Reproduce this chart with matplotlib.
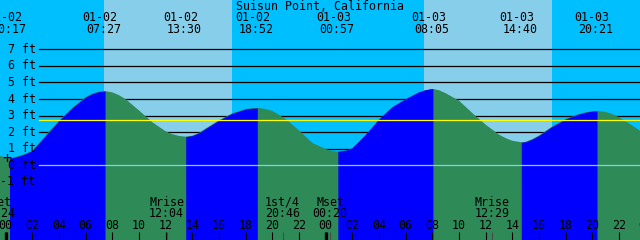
import matplotlib
matplotlib.use("Agg")
import matplotlib.pyplot as plt
from matplotlib.transforms import offset_copy
import numpy as np

# ---------------- data ----------------
title = "Suisun Point, California"

# hours since 01-02 00:00, tide height in ft
times = [-1, 0, 0.283, 0.5, 1, 1.5, 2, 3, 4, 5, 6, 6.5, 7, 7.45, 8, 8.5, 9,
         10, 11, 12, 12.5, 13, 13.5, 14, 14.5, 15, 16, 17, 18, 18.5, 18.87,
         19, 19.5, 20, 21, 22, 23, 24, 24.5, 24.95, 25, 25.5, 26, 27, 28, 29,
         30, 31, 31.5, 32, 32.08, 32.5, 33, 34, 35, 36, 37, 37.5, 38, 38.67,
         39, 39.5, 40, 41, 42, 43, 43.5, 44, 44.35, 45, 45.5, 46, 47, 48]
heights = [0.68, 0.48, 0.45, 0.46, 0.56, 0.7, 0.9, 1.8, 2.7, 3.48, 4.12,
           4.33, 4.45, 4.48, 4.4, 4.23, 3.99, 3.31, 2.6, 2.05, 1.88, 1.77,
           1.73, 1.79, 1.96, 2.22, 2.72, 3.14, 3.40, 3.445, 3.46, 3.46, 3.39,
           3.28, 2.8, 2.1, 1.35, 0.98, 0.87, 0.82, 0.82, 0.88, 1.02, 1.82,
           2.75, 3.5, 3.98, 4.4, 4.53, 4.6, 4.6, 4.53, 4.35, 3.9, 3.15, 2.45,
           1.85, 1.64, 1.48, 1.39, 1.42, 1.58, 1.8, 2.35, 2.8, 3.1, 3.2, 3.27,
           3.28, 3.22, 3.09, 2.9, 2.4, 1.85]

ext_times = [0.283, 7.45, 13.5, 18.87, 24.95, 32.08, 38.67, 44.35]
ext_dates = ["01-02", "01-02", "01-02", "01-02", "01-03", "01-03", "01-03", "01-03"]
ext_labels = ["00:17", "07:27", "13:30", "18:52", "00:57", "08:05", "14:40", "20:21"]
ext_kind = ["low", "high", "low", "high", "low", "high", "low", "high"]

sunrise = [7.37, 31.37]
sunset = [16.97, 40.95]

moon_times = [-0.6, 12.07, 20.77, 24.33, 36.48]
moon_names = ["Mset", "Mrise", "1st/4", "Mset", "Mrise"]
moon_labels = ["23:24", "12:04", "20:46", "00:20", "12:29"]

ft_levels = [7, 6, 5, 4, 3, 2, 1, 0, -1]
grid_levels = [7, 6, 5, 4, 3, 2, 1]
datum_level = 0
mean_level = 2.72
hour_ticks = list(range(0, 50, 2))
midnights = [0, 24, 48]

# ---------------- style ----------------
W, H = 640, 240
C_NIGHT = "#00BFFF"
C_DAY = "#87CEEB"
C_RISE = "#0000FF"
C_FALL = "#2E8B57"
C_MEAN = "#FFFF00"
C_DATUM = "#87CEEB"
FONT = "DejaVu Sans Mono"
FS = 8.4

fig = plt.figure(figsize=(W / 100, H / 100), dpi=100)
fig.patch.set_facecolor(C_NIGHT)
ax = fig.add_axes([0, 0, 1, 1])
ax.set_facecolor(C_NIGHT)
ax.axis("off")

px_per_hr = 13.333
x0_px = 5.7
ax.set_xlim(-x0_px / px_per_hr, (W - x0_px) / px_per_hr)
zero_px, px_per_ft = 165.3, 16.57
ax.set_ylim((zero_px - H) / px_per_ft, zero_px / px_per_ft)

def fy(ypx):
    return 1 - ypx / H

# day shading
for a, b in zip(sunrise, sunset):
    ax.axvspan(a, b, color=C_DAY, lw=0, zorder=0)

# grid lines
line_x0 = 39.3 / W
for lv in grid_levels:
    ax.axhline(lv, xmin=line_x0, xmax=1, color="black", lw=0.9, zorder=1)

# tide curve
t = np.array(times)
hgt = np.array(heights)
bottom = -10
ax.fill_between(t, hgt, bottom, color=C_FALL, lw=0, zorder=2)
for i in range(len(ext_times) - 1):
    if ext_kind[i] == "low":
        m = (t >= ext_times[i]) & (t <= ext_times[i + 1])
        ax.fill_between(t[m], hgt[m], bottom, color=C_RISE, lw=0, zorder=3)

# datum and mean lines
ax.axhline(datum_level, xmin=line_x0, xmax=1, color=C_DATUM, lw=0.9, zorder=4)
ax.axhline(mean_level, xmin=line_x0, xmax=1, color=C_MEAN, lw=0.9, zorder=4)

# y labels
for lv in ft_levels:
    ax.text(35.5 / W, lv, f"{lv} ft", transform=ax.get_yaxis_transform(),
            ha="right", va="center", fontsize=FS, family=FONT, zorder=6)

ax.text(7.3 / W, fy(158.3), "+", transform=ax.transAxes, ha="center",
        va="center", fontsize=11, family=FONT, zorder=6)

xt = ax.get_xaxis_transform()

# title
ax.text(0.5, fy(6), title, transform=ax.transAxes, ha="center", va="center",
        fontsize=FS, family=FONT, zorder=6)

# extreme labels
date_tr = offset_copy(xt, fig=fig, x=-5, y=0, units="dots")
time_tr = offset_copy(xt, fig=fig, x=-1.2, y=0, units="dots")
for tt, d, lab in zip(ext_times, ext_dates, ext_labels):
    ax.text(tt, fy(17.5), d, transform=date_tr, ha="center", va="center",
            fontsize=FS, family=FONT, zorder=6)
    ax.text(tt, fy(29.2), lab, transform=time_tr, ha="center", va="center",
            fontsize=FS, family=FONT, zorder=6)

# hour ticks
ax.vlines(hour_ticks, 0, fy(231.7), transform=xt, color="black", lw=0.8, zorder=5)
ax.vlines(midnights, 0, fy(231.7), transform=xt, color="black", lw=2.4, zorder=5)
for hh in hour_ticks:
    ax.text(hh, fy(225.5), f"{hh % 24:02d}", transform=xt, ha="center",
            va="center", fontsize=FS, family=FONT, zorder=6)

# moon events
ax.vlines(moon_times, 0, fy(231.7), transform=xt, color="#4a4a4a", lw=0.8, zorder=5)
for tt, nm, lab in zip(moon_times, moon_names, moon_labels):
    ax.text(tt, fy(202), nm, transform=xt, ha="center", va="center",
            fontsize=FS, family=FONT, zorder=6)
    ax.text(tt, fy(213.3), lab, transform=xt, ha="center", va="center",
            fontsize=FS, family=FONT, zorder=6)

fig.savefig("out.png", dpi=100, facecolor=fig.get_facecolor())
